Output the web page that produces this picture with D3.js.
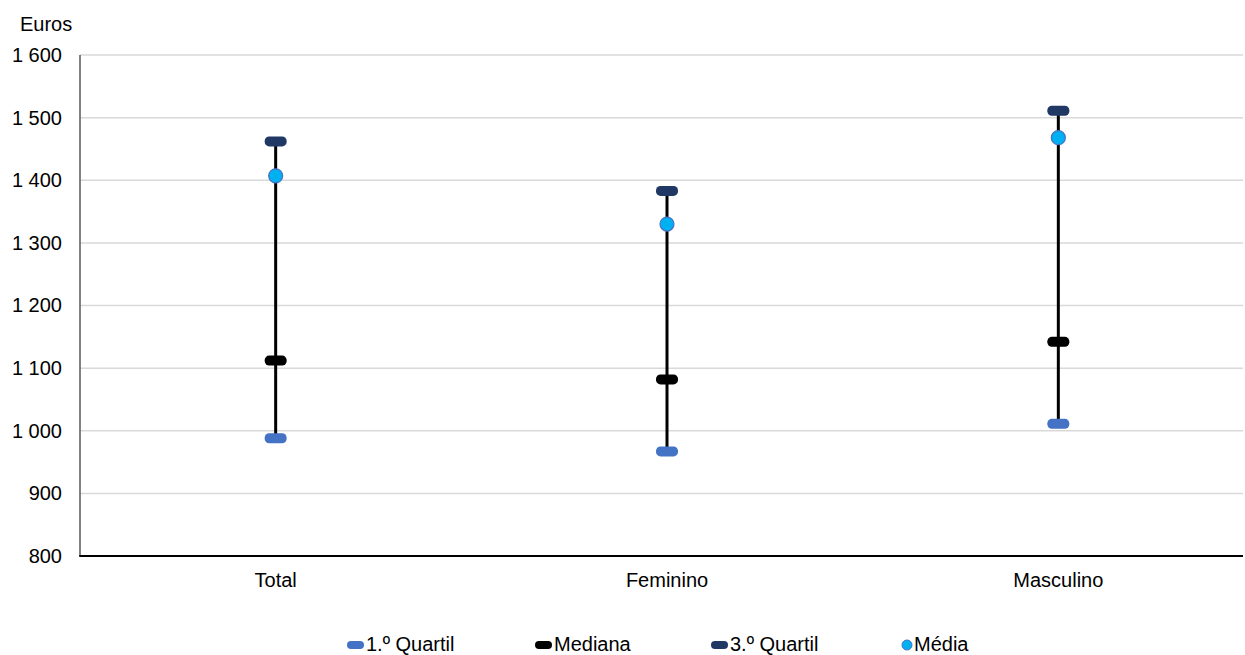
<!DOCTYPE html>
<html><head><meta charset="utf-8">
<script src="https://cdn.jsdelivr.net/npm/d3@7"></script>
<style>body{margin:0;background:#fff}svg{display:block;font-family:"Liberation Sans",Arial,sans-serif}</style>
</head><body><svg id="c" width="1245" height="655"></svg>
<script>
const categories = ["Total", "Feminino", "Masculino"];
const q1 = [988, 967, 1011];
const mediana = [1112, 1082, 1142];
const q3 = [1462, 1383, 1511];
const media = [1407, 1330, 1468];
const yTicks = [800, 900, 1000, 1100, 1200, 1300, 1400, 1500, 1600];
const yTickLabels = ["800", "900", "1 000", "1 100", "1 200", "1 300", "1 400", "1 500", "1 600"];
const legendLabels = ["1.º Quartil", "Mediana", "3.º Quartil", "Média"];

const FS = 20;
const svg = d3.select("#c");
const L = 80, R = 1254, T = 55, B = 556, gridRight = 1243;
const x = d3.scaleBand().domain(categories).range([L, R]);
const y = d3.scaleLinear().domain([800, 1600]).range([B, T]);

// grid
svg.append("g").selectAll("line").data(yTicks.slice(1)).join("line")
  .attr("x1", L).attr("x2", gridRight).attr("y1", d => y(d)).attr("y2", d => y(d))
  .attr("stroke", "#d9d9d9").attr("stroke-width", 1.5);

// y axis labels
const yAxis = d3.axisLeft(y).tickValues(yTicks).tickSize(0).tickPadding(18)
  .tickFormat((d, i) => yTickLabels[i]);
const ga = svg.append("g").attr("transform", `translate(${L},0)`).call(yAxis);
ga.select(".domain").remove();
ga.selectAll("text").attr("font-size", FS).attr("fill", "#000").attr("font-family", "Liberation Sans, Arial, sans-serif");

svg.append("line").attr("x1", L).attr("x2", L).attr("y1", T).attr("y2", B).attr("stroke", "#595959").attr("stroke-width", 1.5);
svg.append("line").attr("x1", L - 0.75).attr("x2", gridRight).attr("y1", B).attr("y2", B).attr("stroke", "#000").attr("stroke-width", 2);

svg.append("text").attr("x", 20).attr("y", 31).attr("font-size", FS).text("Euros");

// x labels
const xAxis = d3.axisBottom(x).tickSize(0).tickPadding(17);
const gx = svg.append("g").attr("transform", `translate(0,${B})`).call(xAxis);
gx.select(".domain").remove();
gx.selectAll("text").attr("font-size", FS).attr("fill", "#000").attr("font-family", "Liberation Sans, Arial, sans-serif");

const cx = i => x(categories[i]) + x.bandwidth() / 2;

// vertical lines
svg.append("g").selectAll("line").data(categories).join("line")
  .attr("x1", (d, i) => cx(i)).attr("x2", (d, i) => cx(i))
  .attr("y1", (d, i) => y(q1[i])).attr("y2", (d, i) => y(q3[i]))
  .attr("stroke", "#000").attr("stroke-width", 3);

function bars(vals, color) {
  svg.append("g").selectAll("rect").data(vals).join("rect")
    .attr("x", (d, i) => cx(i) - 11).attr("y", d => y(d) - 5)
    .attr("width", 22).attr("height", 10).attr("rx", 4.5)
    .attr("fill", color);
}
bars(q1, "#4472C4");
bars(mediana, "#000000");
bars(q3, "#1F3864");
svg.append("g").selectAll("circle").data(media).join("circle")
  .attr("cx", (d, i) => cx(i)).attr("cy", d => y(d)).attr("r", 7)
  .attr("fill", "#00B0F0").attr("stroke", "#4472C4").attr("stroke-width", 1.2);

// legend
const lx = [347, 535, 711, 902];
const lcol = ["#4472C4", "#000000", "#1F3864", "#00B0F0"];
const lg = svg.append("g");
legendLabels.forEach((t, i) => {
  if (i < 3) {
    lg.append("rect").attr("x", lx[i]).attr("y", 641).attr("width", 17).attr("height", 8).attr("rx", 4).attr("fill", lcol[i]);
    lg.append("text").attr("x", lx[i] + 19).attr("y", 651).attr("font-size", FS).text(t);
  } else {
    lg.append("circle").attr("cx", lx[i] + 5).attr("cy", 645).attr("r", 5).attr("fill", lcol[i]).attr("stroke", "#4472C4");
    lg.append("text").attr("x", lx[i] + 12).attr("y", 651).attr("font-size", FS).text(t);
  }
});
</script></body></html>
